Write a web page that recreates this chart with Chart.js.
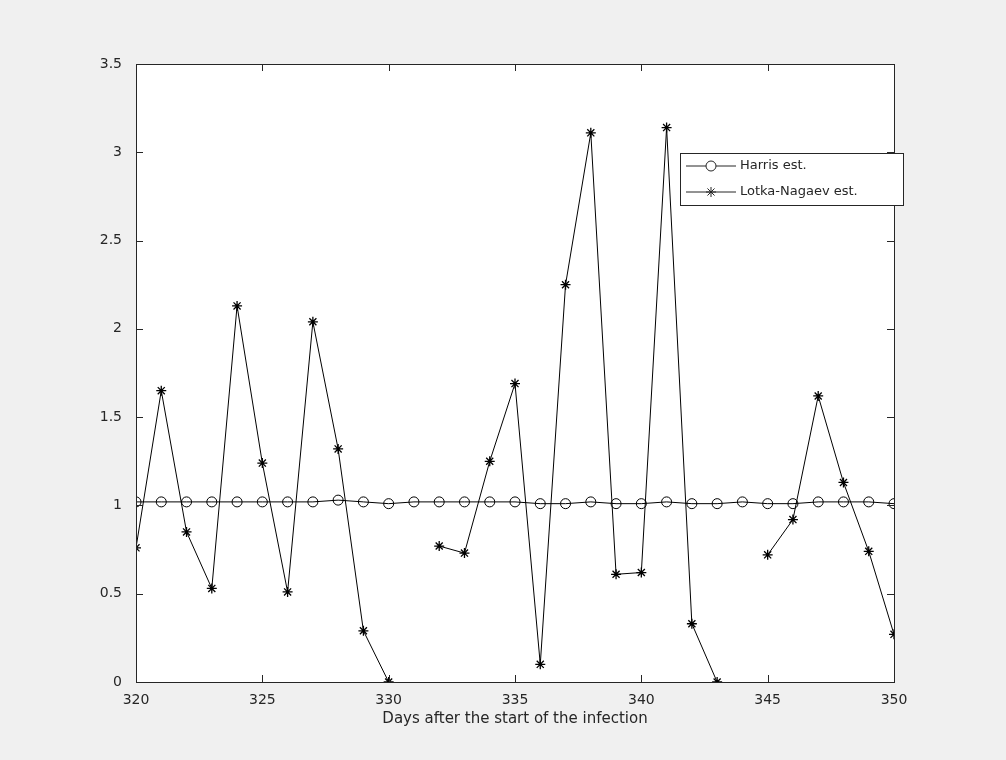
<!DOCTYPE html>
<html><head><style>body{margin:0;background:#f0f0f0}#wrap{width:1006px;height:760px}</style>
<script src="https://cdn.jsdelivr.net/npm/chart.js@4"></script></head>
<body><div id="wrap"><canvas id="c"></canvas></div>
<script>
var days = [];
for (var d = 320; d <= 350; d++) days.push(d);
var harris = [1.02,1.02,1.02,1.02,1.02,1.02,1.02,1.02,1.03,1.02,1.01,1.02,1.02,1.02,1.02,1.02,1.01,1.01,1.02,1.01,1.01,1.02,1.01,1.01,1.02,1.01,1.01,1.02,1.02,1.02,1.01];
var lotka = [0.76,1.65,0.85,0.53,2.13,1.24,0.51,2.04,1.32,0.29,0.0,null,0.77,0.73,1.25,1.69,0.10,2.25,3.11,0.61,0.62,3.14,0.33,0.0,null,0.72,0.92,1.62,1.13,0.74,0.27];
var font = "'DejaVu Sans', sans-serif";

var boxPlugin = {
  id: 'box',
  beforeDraw: function (chart) {
    var c = chart.ctx, a = chart.chartArea;
    c.save(); c.fillStyle = '#fff';
    c.fillRect(a.left, a.top, a.right - a.left, a.bottom - a.top);
    c.restore();
  },
  afterDraw: function (chart) {
    var c = chart.ctx, a = chart.chartArea, x = chart.scales.x, y = chart.scales.y;
    c.save();
    c.strokeStyle = '#262626'; c.lineWidth = 1;
    c.strokeRect(a.left + 0.5, a.top + 0.5, a.right - a.left, a.bottom - a.top);
    c.beginPath();
    for (var v = 320; v <= 350; v += 5) {
      var px = Math.round(x.getPixelForValue(v)) + 0.5;
      c.moveTo(px, a.bottom); c.lineTo(px, a.bottom - 7);
      c.moveTo(px, a.top); c.lineTo(px, a.top + 7);
    }
    for (var w = 0; w <= 3.5; w += 0.5) {
      var py = Math.round(y.getPixelForValue(w)) + 0.5;
      c.moveTo(a.left, py); c.lineTo(a.left + 7, py);
      c.moveTo(a.right, py); c.lineTo(a.right - 7, py);
    }
    c.stroke();
    // legend
    var lx = 680, ly = 153, lw = 223, lh = 52;
    c.fillStyle = '#fff';
    c.fillRect(lx, ly, lw, lh);
    c.strokeStyle = '#262626';
    c.strokeRect(lx + 0.5, ly + 0.5, lw, lh);
    chart.data.datasets.forEach(function (ds, i) {
      var yy = ly + 13 + i * 26;
      c.beginPath(); c.moveTo(lx + 6, yy); c.lineTo(lx + 56, yy); c.stroke();
      Chart.helpers.drawPoint(c, {pointStyle: ds.pointStyle, radius: ds.pointRadius, borderWidth: 1}, lx + 31, yy);
      c.fillStyle = '#262626'; c.font = '13px ' + font; c.textBaseline = 'middle';
      c.fillText(ds.label, lx + 60, yy);
      c.fillStyle = '#fff';
    });
    c.restore();
  }
};

new Chart(document.getElementById('c'), {
  type: 'line',
  data: {
    labels: days,
    datasets: [
      {label: 'Harris est.', data: harris, borderColor: '#000', borderWidth: 1, pointStyle: 'circle', pointRadius: 5, pointBorderColor: '#000', pointBackgroundColor: 'rgba(0,0,0,0)', pointBorderWidth: 1},
      {label: 'Lotka-Nagaev est.', data: lotka, borderColor: '#000', borderWidth: 1, pointStyle: 'star', pointRadius: 5, pointBorderColor: '#000', pointBorderWidth: 1.3, spanGaps: false}
    ]
  },
  options: {
    responsive: true, maintainAspectRatio: false, animation: false,
    layout: {padding: {left: 86, right: 112, top: 64, bottom: 28}},
    plugins: {legend: {display: false}, tooltip: {enabled: false}},
    scales: {
      x: {type: 'linear', min: 320, max: 350,
        afterFit: function (s) { s.height = 50; },
        grid: {display: false}, border: {display: false},
        ticks: {stepSize: 5, color: '#262626', font: {family: font, size: 14}, padding: 2},
        title: {display: true, text: 'Days after the start of the infection', color: '#262626', font: {family: font, size: 15}, padding: {top: 0}}},
      y: {min: 0, max: 3.5,
        afterFit: function (s) { s.width = 50; },
        grid: {display: false}, border: {display: false},
        ticks: {stepSize: 0.5, color: '#262626', font: {family: font, size: 14}, padding: 6,
          callback: function (v) { return String(v); }}}
    }
  },
  plugins: [boxPlugin]
});
</script></body></html>
